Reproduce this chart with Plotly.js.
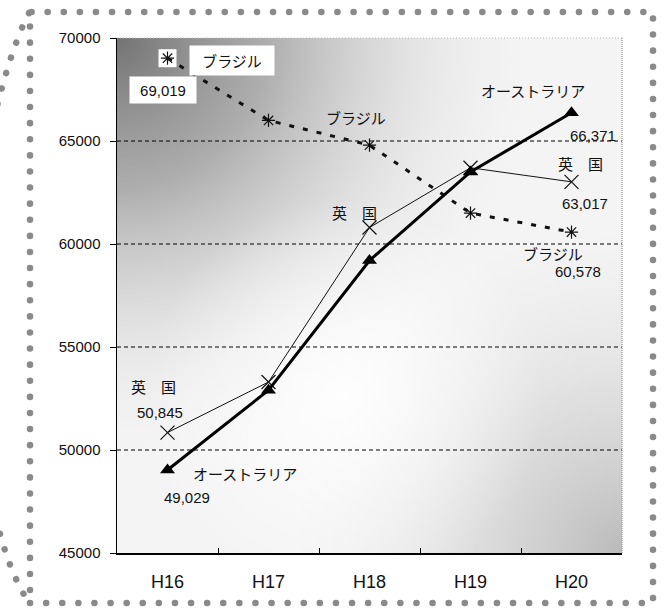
<!DOCTYPE html>
<html>
<head>
<meta charset="utf-8">
<script src="https://cdn.plot.ly/plotly-3.0.1.min.js"></script>
<style>html,body{margin:0;padding:0;background:#fff;}#chart{width:664px;height:612px;}</style>
</head>
<body>
<div id="chart"></div>
<script>
// ---- data ----
const categories = ['H16', 'H17', 'H18', 'H19', 'H20'];
const australia = [49029, 52900, 59200, 63500, 66371];
const uk = [50845, 53300, 60800, 63700, 63017];
const brazil = [69019, 66000, 64800, 61500, 60578];
const nameAustralia = 'オーストラリア';
const nameUK = '英　国';
const nameBrazil = 'ブラジル';
const yTickValues = [45000, 50000, 55000, 60000, 65000, 70000];

// ---- geometry ----
const W = 664, H = 612;
const M = {l: 117, r: 42, t: 38, b: 59};
const PW = W - M.l - M.r, PH = H - M.t - M.b;
const px = x => (x - M.l) / PW;
const py = y => (H - M.b - y) / PH;

// background gradient image
function makeBg() {
  const c = document.createElement('canvas');
  c.width = PW; c.height = PH;
  const g = c.getContext('2d');
  g.fillStyle = '#f4f4f4';
  g.fillRect(0, 0, PW, PH);
  let r = g.createRadialGradient(0, 0, 0, 0, 0, 430);
  r.addColorStop(0, 'rgba(115,115,115,1)');
  r.addColorStop(0.35, 'rgba(150,150,150,0.75)');
  r.addColorStop(0.7, 'rgba(200,200,200,0.35)');
  r.addColorStop(1, 'rgba(240,240,240,0)');
  g.fillStyle = r; g.fillRect(0, 0, PW, PH);
  r = g.createRadialGradient(PW, PH, 0, PW, PH, 330);
  r.addColorStop(0, 'rgba(180,180,180,0.9)');
  r.addColorStop(0.5, 'rgba(205,205,205,0.5)');
  r.addColorStop(1, 'rgba(230,230,230,0)');
  g.fillStyle = r; g.fillRect(0, 0, PW, PH);
  r = g.createRadialGradient(PW * 0.45, PH * 0.7, 0, PW * 0.45, PH * 0.7, 200);
  r.addColorStop(0, 'rgba(255,255,255,0.9)');
  r.addColorStop(1, 'rgba(255,255,255,0)');
  g.fillStyle = r; g.fillRect(0, 0, PW, PH);
  return c.toDataURL('image/png');
}

const FONT = '"Liberation Sans", "Noto Sans CJK JP", sans-serif';
const JFONT = '"Noto Sans CJK JP", "Liberation Sans", sans-serif';
const fmt = v => v.toLocaleString('en-US');

const traces = [
  {
    x: categories, y: brazil, type: 'scatter', mode: 'lines+markers', name: nameBrazil,
    line: {color: '#111', width: 3, dash: '5px,9px'},
    marker: {symbol: 'asterisk-open', size: 11, color: '#111', line: {width: 1.2, color: '#111'}}
  },
  {
    x: categories, y: uk, type: 'scatter', mode: 'lines+markers', name: nameUK,
    line: {color: '#111', width: 1},
    marker: {symbol: 'x-thin-open', size: 14, color: '#111', line: {width: 1.2, color: '#111'}}
  },
  {
    x: categories, y: australia, type: 'scatter', mode: 'lines+markers', name: nameAustralia,
    line: {color: '#000', width: 3},
    marker: {symbol: 'triangle-up', size: 13, color: '#000'}
  }
];

function ann(cat, val, text, xs, ys, opts) {
  return Object.assign({
    x: cat, y: val, xref: 'x', yref: 'y', text: text, showarrow: false,
    xshift: xs, yshift: ys, font: {family: JFONT, size: 15, color: '#111'}
  }, opts || {});
}
const numFont = {family: FONT, size: 15, color: '#111'};
const last = categories.length - 1;

const annotations = [
  ann(categories[0], brazil[0], nameBrazil, 64, -2, {bgcolor: '#fff', borderpad: 4, width: 76}),
  ann(categories[0], brazil[0], fmt(brazil[0]), -5, -32, {bgcolor: '#fff', borderpad: 4, width: 58, height: 18, font: numFont}),
  ann(categories[2], brazil[2], nameBrazil, -14, 28),
  ann(categories[2], uk[2], nameUK, -15, 15),
  ann(categories[last], australia[last], nameAustralia, -39, 22),
  ann(categories[last], australia[last], fmt(australia[last]), 21, -23, {font: numFont}),
  ann(categories[last], uk[last], nameUK, 9, 18),
  ann(categories[last], uk[last], fmt(uk[last]), 13, -22, {font: numFont}),
  ann(categories[last], brazil[last], nameBrazil, -19, -21),
  ann(categories[last], brazil[last], fmt(brazil[last]), 6, -39, {font: numFont}),
  ann(categories[0], uk[0], nameUK, -14, 46),
  ann(categories[0], uk[0], fmt(uk[0]), -8, 20, {font: numFont}),
  ann(categories[0], australia[0], nameAustralia, 77, -3),
  ann(categories[0], australia[0], fmt(australia[0]), 19, -27, {font: numFont})
];

const shapes = [];
// gridlines (interior ticks only)
yTickValues.slice(1, -1).forEach(v => shapes.push({
  type: 'line', xref: 'paper', yref: 'y', x0: 0, x1: 1, y0: v, y1: v,
  line: {color: '#000', width: 1, dash: '4px,3px'}, layer: 'below'
}));
// white box behind the first Brazil marker
shapes.push({type: 'rect', xref: 'x', yref: 'y', xsizemode: 'pixel', ysizemode: 'pixel',
  xanchor: 0, yanchor: brazil[0], x0: -9, x1: 9, y0: -9, y1: 9,
  fillcolor: '#fff', line: {width: 0}, layer: 'below'});
// faint plot frame top/right
shapes.push({type: 'line', xref: 'paper', yref: 'paper', x0: 0, x1: 1, y0: 1, y1: 1,
  line: {color: '#b8b8b8', width: 1, dash: '1px,2px'}, layer: 'below'});
shapes.push({type: 'line', xref: 'paper', yref: 'paper', x0: 1, x1: 1, y0: 0, y1: 1,
  line: {color: '#a8a8a8', width: 1.5, dash: '1px,1px'}, layer: 'below'});
// dotted decorative frame
const dotLine = {color: '#8a8a8a', width: 6.5, dash: '0.1px,16px'};
shapes.push({type: 'rect', xref: 'paper', yref: 'paper',
  x0: px(30), x1: px(653), y0: py(603), y1: py(12), line: dotLine, layer: 'above'});
shapes.push({type: 'path', xref: 'paper', yref: 'paper',
  path: `M${px(29)},${py(13)} Q${px(12)},${py(45)} ${px(-6)},${py(118)}`, line: dotLine, layer: 'above'});
shapes.push({type: 'path', xref: 'paper', yref: 'paper',
  path: `M${px(-4)},${py(518)} Q${px(8)},${py(570)} ${px(29)},${py(603)}`, line: dotLine, layer: 'above'});

const layout = {
  width: W, height: H,
  margin: M,
  paper_bgcolor: '#fff',
  plot_bgcolor: 'rgba(0,0,0,0)',
  showlegend: false,
  font: {family: FONT, color: '#111'},
  images: [{source: makeBg(), xref: 'paper', yref: 'paper', x: 0, y: 1,
    sizex: 1, sizey: 1, sizing: 'stretch', xanchor: 'left', yanchor: 'top', layer: 'below'}],
  xaxis: {
    type: 'category', categoryorder: 'array', categoryarray: categories,
    range: [-0.5, categories.length - 0.5],
    showline: true, linecolor: '#000', linewidth: 1.5,
    ticks: 'inside', tickson: 'boundaries', ticklen: 5, tickcolor: '#000', tickwidth: 1,
    showgrid: false, zeroline: false,
    tickfont: {family: FONT, size: 18, color: '#111'}, ticklabelstandoff: 12
  },
  yaxis: {
    range: [yTickValues[0], yTickValues[yTickValues.length - 1]],
    tickvals: yTickValues, ticktext: yTickValues.map(String),
    showline: true, linecolor: '#000', linewidth: 1.5,
    ticks: 'outside', ticklen: 6, tickcolor: '#000',
    showgrid: false, zeroline: false,
    tickfont: {family: FONT, size: 15, color: '#111'}, ticklabelstandoff: 6
  },
  annotations: annotations,
  shapes: shapes
};

Plotly.newPlot('chart', traces, layout, {displayModeBar: false, staticPlot: true}).then(() => {
  document.querySelectorAll('.layer-above .shapelayer path').forEach(p => {
    p.style.strokeLinecap = 'round';
  });
});
</script>
</body>
</html>
